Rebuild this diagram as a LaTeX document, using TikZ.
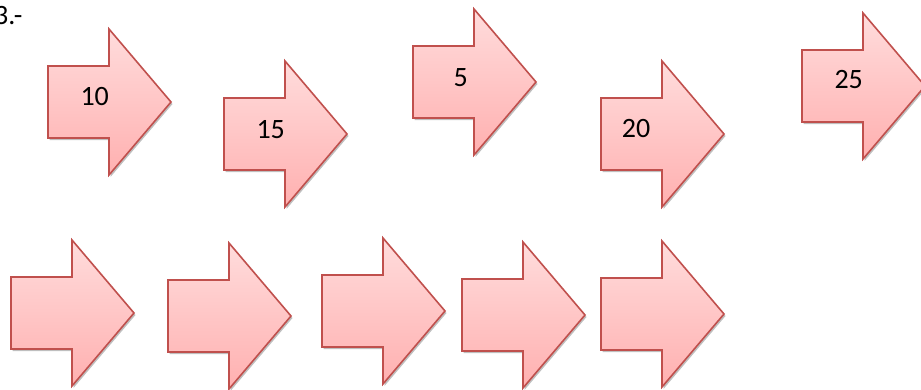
\documentclass[tikz,border=0pt]{standalone}
\usepackage{fontspec}
\setmainfont{Carlito}
\usetikzlibrary{shadows}

\definecolor{rojoborde}{HTML}{C0504D}
\definecolor{rosaclaro}{HTML}{FFDCDC}
\definecolor{rosaoscuro}{HTML}{FFB0B0}

\begin{document}
\begin{tikzpicture}[x=1pt,y=-1pt,
    flecha/.style={draw=rojoborde,line width=1.6pt,line join=miter,
        top color=rosaclaro,bottom color=rosaoscuro,
        drop shadow={shadow xshift=1.5pt,shadow yshift=-2pt,opacity=0.25,fill=black}},
    numero/.style={font=\fontsize{28}{33}\selectfont,inner sep=0pt}]
    \useasboundingbox (0,0) rectangle (921,389);
    \clip (0,0) rectangle (921,389);
    \node[numero,anchor=base west] (titulo) at (-6,24) {3.-};
    % fila de arriba y fila de abajo
    \foreach \x/\y in {48/102,224/134,413/82,601/134,802/86,
                       11/313,168/316,322/311,462/315,601/314}
        \draw[flecha] (\x,\y) ++(0,-36) -- ++(61,0) -- ++(0,-37) -- ++(62,73)
            -- ++(-62,73) -- ++(0,-37) -- ++(-61,0) -- cycle;
    \node[numero] (n10) at (94.7,96.7) {10};
    \node[numero] (n15) at (270.7,129.3) {15};
    \node[numero] (n5) at (460.7,77.3) {5};
    \node[numero] (n20) at (636,128.3) {20};
    \node[numero] (n25) at (848.7,80) {25};
\end{tikzpicture}
\end{document}
